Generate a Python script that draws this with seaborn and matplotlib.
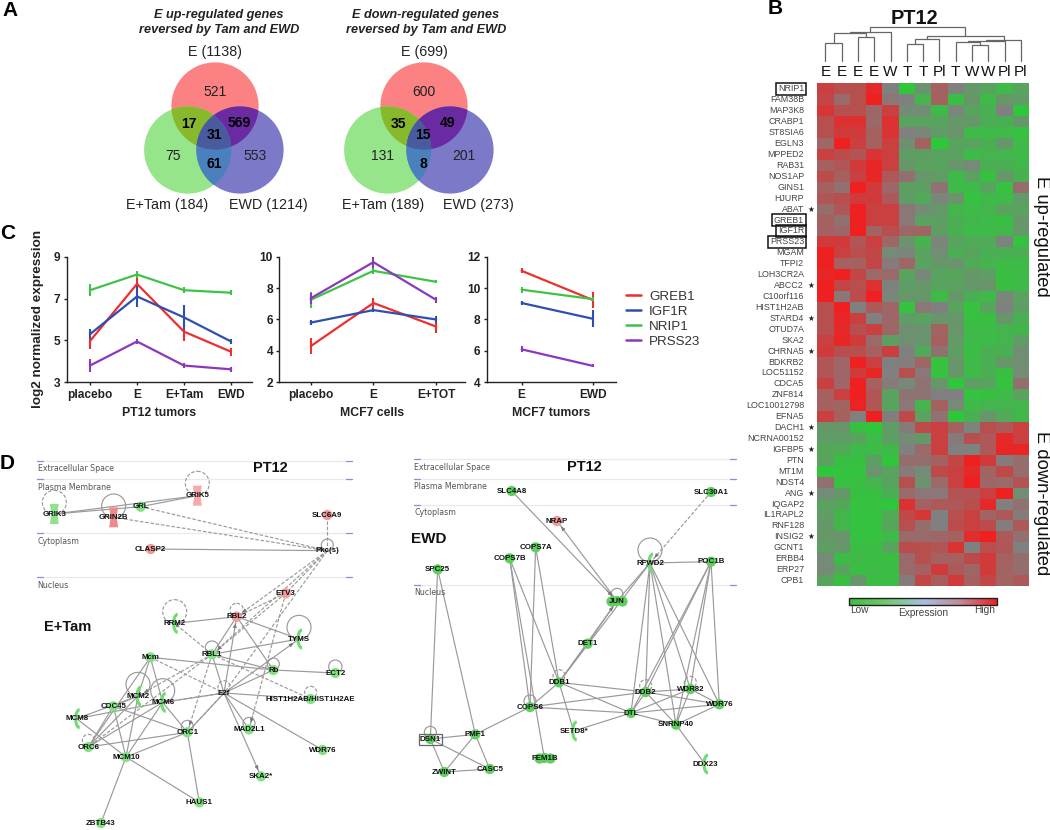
import numpy as np
import pandas as pd
import matplotlib
matplotlib.use('Agg')
import matplotlib.pyplot as plt
import seaborn as sns
from matplotlib.colors import LinearSegmentedColormap
from matplotlib.cm import ScalarMappable
from matplotlib.patches import Circle, Polygon, Rectangle, Arc

# ──────────────────────────────────────────────────────────────
#  DATA — A: venn counts
# ──────────────────────────────────────────────────────────────
venn_titles = ['E up-regulated genes\nreversed by Tam and EWD',
               'E down-regulated genes\nreversed by Tam and EWD']
venn_sets = [['E (1138)', 'E+Tam (184)', 'EWD (1214)'],
             ['E (699)', 'E+Tam (189)', 'EWD (273)']]
# only E, only Tam, only EWD, E&Tam, E&EWD, all three, Tam&EWD
venn_counts = [[521, 75, 553, 17, 569, 31, 61],
               [600, 131, 201, 35, 49, 15, 8]]

# ──────────────────────────────────────────────────────────────
#  DATA — C: line panels (value, error)
# ──────────────────────────────────────────────────────────────
genes_c = ['GREB1', 'IGF1R', 'NRIP1', 'PRSS23']
gene_colors = ['#ee2f2f', '#2f4fae', '#3fc247', '#8b38bd']

pt12_cats = ['placebo', 'E', 'E+Tam', 'EWD']
pt12_vals = [[4.97, 7.7, 5.42, 4.46], [5.3, 7.1, 6.1, 4.95],
             [7.4, 8.15, 7.4, 7.28], [3.8, 4.95, 3.8, 3.62]]
pt12_errs = [[.4, .45, .45, .2], [.25, .5, .6, .1],
             [.3, .15, .15, .12], [.3, .12, .12, .12]]

cells_cats = ['placebo', 'E', 'E+TOT']
cells_vals = [[4.3, 7.05, 5.55], [5.8, 6.6, 6.0],
              [7.25, 9.1, 8.4], [7.35, 9.65, 7.25]]
cells_errs = [[.5, .35, .4], [.15, .15, .25], [.5, .2, .1], [.35, .35, .2]]

mcf7_cats = ['E', 'EWD']
mcf7_vals = [[11.1, 9.25], [9.05, 8.05], [9.9, 9.3], [6.1, 5.05]]
mcf7_errs = [[.15, .5], [.12, .55], [.2, .15], [.2, .1]]

# ──────────────────────────────────────────────────────────────
#  DATA — B: heatmap (read by eye, -3 green ... +3 red)
# ──────────────────────────────────────────────────────────────
samples = ['E', 'E', 'E', 'E', 'W', 'T', 'T', 'Pl', 'T', 'W', 'W', 'Pl', 'Pl']
heat_genes = ['NRIP1', 'FAM38B', 'MAP3K8', 'CRABP1', 'ST8SIA6', 'EGLN3', 'MPPED2', 'RAB31',
              'NOS1AP', 'GINS1', 'HJURP', 'ABAT', 'GREB1', 'IGF1R', 'PRSS23', 'MGAM', 'TFPI2',
              'LOH3CR2A', 'ABCC2', 'C10orf116', 'HIST1H2AB', 'STARD4', 'OTUD7A', 'SKA2',
              'CHRNA5', 'BDKRB2', 'LOC51152', 'CDCA5', 'ZNF814', 'LOC10012798', 'EFNA5',
              'DACH1', 'NCRNA00152', 'IGFBP5', 'PTN', 'MT1M', 'NDST4', 'ANG', 'IQGAP2',
              'IL1RAPL2', 'RNF128', 'INSIG2', 'GCNT1', 'ERBB4', 'ERP27', 'CPB1']
boxed_genes = ['NRIP1', 'GREB1', 'IGF1R', 'PRSS23']
starred_genes = ['ABAT', 'ABCC2', 'STARD4', 'CHRNA5', 'DACH1', 'IGFBP5', 'ANG', 'INSIG2']
heat_vals = [
    [2, 1.5, 1.5, 2.7, 0, -3, -.8, 1, 0, -1, -1.5, -2.5, -1.5],
    [1.8, .7, 1.5, 3, .3, 0, -2.2, 1, -2.7, -1, -2.5, -1, -1.2],
    [2.3, 1.5, 1.5, .8, 2, -.5, -.5, -2.5, -.2, -1.5, -2, 0, -3],
    [1.5, 2.5, 2.5, .7, 2.5, -1.5, -1.5, -1.5, -1, -1, -2, -2, -1],
    [1.5, 2.2, 2.2, 1, 2.4, 0, -.3, -1.2, -.8, -2.5, -2.5, -2.5, -2.8],
    [.8, 3, 2, 1, 2, -.6, 1, -3, -1.5, -1.5, -2, -1, -2.5],
    [2, 1.6, 1.4, 2.4, 2, -1.2, -1.3, -1.5, -1.4, -2.5, -2.2, -2.2, -2.5],
    [1, 1.3, 2.2, 2.8, 2, -1, -1.4, -1.5, -1, -.4, -2, -2, -2.3],
    [1.6, 1, 2, 2.8, 1.2, .5, -1, -1.2, -2.5, -1.4, -2.7, -1, -2],
    [1, .5, 3, 2.2, .8, -1.3, -1.3, .4, -2.5, -2.5, -1.5, -2.8, .6],
    [1.3, 1.5, 2.2, 2.2, 1.2, -1.2, -1.8, -.3, -.8, -2.8, -2.5, -2.5, -1.2],
    [.6, 1.3, 3, 2, 2, .3, -.5, -1, -2.3, -2.5, -2.3, -1.5, -1.5],
    [1, .5, 3, 2, 2, .3, -1.4, -1.3, -2, -2.3, -2.5, -2.7, -1],
    [1, .8, 3, .9, 1.5, .8, .9, -1.3, -2, -2.5, -2.5, -2.3, -1.1],
    [2.2, 2.2, 1.3, 2, .8, -.8, -2.2, -.2, -1.5, -1.8, -1.8, -.1, -2.8],
    [3, 2, 1.5, 1.8, -.4, -.2, -1.5, -.5, -2, -1.5, -2, -2, -2],
    [3, 1, 1, 1.8, .2, .8, -1.5, -1, -.8, -1.8, -2.2, -2.5, -2.5],
    [2.8, 3, 1.8, .7, .7, -1.5, -.3, -1.5, -1.6, -1, -1.2, -2.7, -2.5],
    [3, 1.8, 1.5, 2.5, -.1, -1.2, -1, -1.5, -1.4, -1, -.9, -2.7, -2.5],
    [3, .3, 1.6, 3, -.3, -1, -1, -2.5, -1, -2, -2.5, -.3, -1.4],
    [1.5, 3, 0, 1.2, .8, -2.8, .3, 0, -1.5, -2.8, -1.5, -.1, -1.3],
    [1.5, 2.8, 2, 0, .8, -1.2, -1.5, -.9, -1, -2.7, -2.7, -1, -2],
    [1.5, 2.7, 1.5, 2, .8, -.7, -.8, .9, -.9, -2.5, -2.5, -2.2, -2.3],
    [2, 2.8, 2.2, .7, -1.3, -.6, -.9, 1, -1.1, -2.5, -2.5, -2.2, -1.2],
    [2.2, 1.5, 1.5, 1, 2, -.1, -1.8, .5, -1.3, -2.6, -2, -2, -.6],
    [1.3, .8, 3, 2, 0, .1, .8, -2.8, -1, -2.5, -2, -1, -.6],
    [1.3, .8, 2.2, 2.8, 0, 1.5, .3, -2.8, -1, -2.5, -2, -2.7, -.5],
    [2, .8, 3, 1, .2, -.4, .4, -1, -3, -1.3, -1.5, -2.8, .5],
    [1, 2, 3, 1.3, -1.5, .4, .4, 0, 0, -2.8, -2.7, -2.5, -1.4],
    [1, .9, 2.9, 1.3, -1.5, .3, -2.2, 1, -.4, -2.5, -2.2, -2.2, -2.3],
    [2, 1, 0, 3, .1, 1.7, -1.4, .4, -3, -2, -.9, -1.7, -2.4],
    [-1, -.9, -2.7, -3, -1.2, .2, 1.6, 2, 1, -.2, 1.5, 1.2, 2],
    [-1.2, -1.2, -1.5, -2.5, -1.3, -.5, -1, 2, .2, 1.5, 1.2, 2.7, 2],
    [-1.6, -1.8, -2.5, -2.5, -2.4, 0, .7, 2, 0, -.1, 1.2, 2.8, 2.8],
    [-1.5, -2.7, -2.7, -1.3, -3, .6, .6, 1, 1.8, 3, 2.2, .2, .6],
    [-3, -2.8, -2.8, -.8, -1.5, .2, -.4, 1.7, 2, 2.7, .9, 1.7, .6],
    [.5, -2.8, -2.7, -2.2, -1.5, 1.5, -.8, .7, 2, 3, .8, .7, 1.4],
    [-.5, -1, -2.7, -2.7, -2, .7, .3, .3, 1.4, 1.4, 2, 3, -.6],
    [-1.4, -1.6, -2.8, -2.8, -3, 2.5, 1, 1.2, 1.2, 1.5, 2.7, 0, .5],
    [-1.2, -2.3, -2.8, -2.8, -1.8, 1.7, 2.3, 0, 1.5, 2, .9, 1.2, .2],
    [-1, -2.3, -2.8, -2.8, -1.6, 1.5, .6, 0, 1.6, 2, 1.6, .1, 1.2],
    [-1, -.8, -2.8, -2.8, -2.5, .7, .7, .8, 1, 2.6, 3, 1.2, .5],
    [-1.3, -1, -2.6, -2.6, -1.5, 1.6, 1.5, 1.3, 2.4, 0, 1.5, 1.3, 0],
    [-.4, -2.6, -2.4, -2.7, -2.7, .7, 1.5, 1, 1, 1.7, 2.2, 1, .6],
    [-.4, -1.5, -2.7, -2.5, -2.6, .7, 1, 2.2, 1.2, .8, 2.2, .9, .6],
    [-1.5, -2.7, -.9, -2.6, -2.6, .2, 1.8, 1.1, 2.2, 1, 1.8, .9, 1.2],
]
# dendrogram merges: left node, right node, top of the link (px); leaves are 0-12
dendro_merges = [(0, 1, 42.7), (2, 3, 37.3), (13, 14, 33.3), (15, 4, 31.7),
                 (5, 6, 44), (17, 7, 39.3), (9, 10, 45), (8, 19, 41.7),
                 (20, 11, 40.7), (21, 12, 40), (18, 22, 36), (16, 23, 27.3)]

# ──────────────────────────────────────────────────────────────
#  DATA — D: networks
#  positions read in 3x crop units, converted in to_px below
# ──────────────────────────────────────────────────────────────
lanes_tam = [('Extracellular Space', 107), ('Plasma Membrane', 163), ('Cytoplasm', 325), ('Nucleus', 457)]
lanes_ewd = [('Extracellular Space', 103), ('Plasma Membrane', 161), ('Cytoplasm', 239), ('Nucleus', 480)]

tam_nodes = {'GRIK3': (163, 267), 'GRIN2B': (341, 277), 'GRL': (422, 245), 'GRIK5': (592, 212),
             'SLC6A9': (982, 270), 'CLASP2': (452, 372), 'Pkc(s)': (982, 377), 'ETV3': (857, 505),
             'RBL2': (710, 575), 'RRM2': (524, 595), 'TYMS': (897, 642), 'RBL1': (636, 688),
             'Mcm': (451, 697), 'Rb': (820, 735), 'ECT2': (1006, 744), 'E2f': (672, 804),
             'MCM2': (414, 813), 'MCM6': (488, 832), 'CDC45': (340, 844),
             'HIST1H2AB/HIST1H2AE': (932, 822), 'MCM8': (230, 881), 'ORC1': (562, 922),
             'MAD2L1': (747, 913), 'ORC6': (265, 966), 'MCM10': (378, 996), 'WDR76': (968, 975),
             'SKA2*': (783, 1054), 'HAUS1': (598, 1132), 'ZBTB43': (303, 1194)}
tam_red = ['SLC6A9', 'CLASP2', 'ETV3', 'RBL2']
tam_plain = ['Pkc(s)', 'E2f']
tam_crescent = ['RRM2', 'TYMS', 'MCM2', 'MCM6', 'MCM8']
tam_hourglass = {'GRIK3': '#8fe28f', 'GRIN2B': '#f08a8a', 'GRIK5': '#f8aaaa'}
tam_solid = ('GRIK3:GRL GRIK3:GRIK5 GRL:GRIK5 CLASP2:Pkc(s) RRM2:RBL2 RBL2:TYMS RBL1:TYMS RBL1>RBL2 '
             'RBL1:Rb Mcm:Rb RBL2>Rb Rb:ECT2 E2f>RBL1 E2f>RBL2 E2f:Rb E2f>TYMS '
             'E2f:HIST1H2AB/HIST1H2AE E2f:MCM6 E2f:ORC1 E2f>MAD2L1 E2f>SKA2* E2f:WDR76 Mcm>MCM2 '
             'Mcm>MCM6 Mcm:ORC6 MCM2:CDC45 MCM8:MCM6 MCM8:MCM2 MCM8:MCM10 MCM6:ORC6 MCM6:MCM10 '
             'CDC45:ORC1 CDC45:MCM10 CDC45:ORC6 MCM2:ORC6 MCM2:MCM10 ORC1:ORC6 ORC1:MCM10 '
             'ORC1:HAUS1 MCM10:HAUS1 MCM10:ZBTB43 MCM6:ORC1').split()
tam_dashed = ('GRL:Pkc(s) GRIN2B:Pkc(s) Pkc(s)>SLC6A9 Pkc(s)>ETV3 Pkc(s)>RBL2 Pkc(s):RBL1 Pkc(s):E2f '
              'ETV3>RBL1 ETV3>RBL2 RBL1>RRM2 Mcm:E2f RBL1>MCM2 RBL1:ORC6 RBL1>ORC1 E2f>ORC1 E2f>MCM6 '
              'RBL1:HIST1H2AB/HIST1H2AE ETV3>MAD2L1').split()
# node, centre offset up (crop units), radius, dashed
tam_loops = [('GRIK3', 35, 36, True), ('GRIN2B', 34, 36, False), ('GRIK5', 37, 36, True),
             ('Pkc(s)', 17, 18, False), ('RBL2', 20, 20, True), ('RRM2', 35, 36, True),
             ('TYMS', 35, 36, False), ('RBL1', 20, 20, False), ('Rb', 18, 18, False),
             ('ECT2', 19, 20, False), ('E2f', 19, 18, True), ('MCM2', 35, 36, False),
             ('MCM6', 35, 36, False), ('HIST1H2AB/HIST1H2AE', 20, 18, True),
             ('ORC1', 18, 18, False), ('MAD2L1', 18, 18, False), ('ORC6', 20, 18, True)]

ewd_nodes = {'SLC4A8': (395, 198), 'SLC30A1': (993, 201), 'NRAP': (531, 288), 'COPS7A': (467, 367),
             'COPS7B': (389, 400), 'RFWD2': (810, 414), 'POC1B': (993, 410), 'SPC25': (173, 433),
             'JUN': (711, 528), 'DET1': (623, 656), 'DDB1': (537, 772), 'DDB2': (797, 801),
             'WDR82': (931, 792), 'WDR76': (1018, 838), 'DTL': (753, 864), 'SNRNP40': (888, 899),
             'COPS6': (450, 846), 'SETD8*': (581, 918), 'PMF1': (286, 928), 'DSN1': (151, 942),
             'FEM1B': (493, 999), 'ZWINT': (193, 1041), 'CASC5': (329, 1032), 'DDX23': (975, 1017)}
ewd_red = ['NRAP']
ewd_plain = []
ewd_crescent = ['RFWD2', 'SETD8*', 'DDX23']
ewd_solid = ('SLC4A8>JUN JUN>NRAP COPS7A:COPS6 COPS7A:DDB1 COPS7B:COPS6 COPS7B:DDB1 COPS7B:FEM1B '
             'RFWD2:POC1B JUN>RFWD2 RFWD2:DDB1 RFWD2:DDB2 RFWD2:DTL RFWD2:WDR82 RFWD2:SNRNP40 '
             'RFWD2:WDR76 POC1B:DDB2 POC1B:DTL POC1B:WDR82 POC1B:SNRNP40 POC1B:WDR76 DET1>JUN '
             'DDB1>JUN DDB1:DET1 SPC25:DSN1 SPC25:PMF1 DSN1:PMF1 DSN1:ZWINT DSN1:CASC5 PMF1:ZWINT '
             'PMF1:CASC5 ZWINT:CASC5 PMF1:COPS6 COPS6:DDB1 COPS6:DDB2 COPS6:DTL DDB1:DDB2 DDB1:DTL '
             'DDB1:SETD8* DDB2:DTL DDB2:WDR82 DDB2:WDR76 DDB2:SNRNP40 DTL:WDR82 DTL:WDR76 '
             'DTL:SNRNP40 DTL:SETD8* WDR82:SNRNP40 WDR82:WDR76 WDR76:SNRNP40 SNRNP40:DDX23').split()
ewd_dashed = ['SLC30A1>RFWD2']
ewd_loops = [('RFWD2', 39, 36, False), ('JUN', 20, 18, False), ('DDB1', 20, 18, True),
             ('COPS6', 18, 18, False), ('DDB2', 19, 18, True), ('WDR82', 20, 18, True),
             ('DSN1', 20, 18, False)]

# ──────────────────────────────────────────────────────────────
#  SETUP
# ──────────────────────────────────────────────────────────────
sns.set_theme(style='white')
plt.rcParams['font.family'] = ['Liberation Sans', 'DejaVu Sans']
W, H = 1050, 830

fig = plt.figure(figsize=(W / 100, H / 100), dpi=100, facecolor='white')


def px_axes(left, top, right, bottom, **kw):
    return fig.add_axes([left / W, 1 - bottom / H, (right - left) / W, (bottom - top) / H], **kw)


# page axes in pixels, y down: venns, dendrogram, networks, free text
page = px_axes(0, 0, W, H)
page.set_xlim(0, W)
page.set_ylim(H, 0)
page.axis('off')

for letter, x, y in [('A', 2, 10), ('B', 768, 9), ('C', 0, 233), ('D', 0, 463)]:
    page.text(x, y, letter, fontsize=15, fontweight='bold', va='center', color='black')

# ──────────────────────────────────────────────────────────────
#  A — VENN
# ──────────────────────────────────────────────────────────────
set_colors = ['#fb8183', '#97e58b', '#7b79c8']
pair_colors = {(0, 1): '#88b92c', (0, 2): '#6a2aa2', (1, 2): '#4a80be'}
triple_color = '#4a5a9e'
venn_r = 43.6


def overlap_polygon(centers):
    # boundary of a convex intersection, sampled from the circle outlines
    t = np.linspace(0, 2 * np.pi, 720)
    pts = []
    for cx, cy in centers:
        ring = np.column_stack([cx + venn_r * np.cos(t), cy + venn_r * np.sin(t)])
        keep = np.ones(len(ring), bool)
        for ox, oy in centers:
            if (ox, oy) != (cx, cy):
                keep &= np.hypot(ring[:, 0] - ox, ring[:, 1] - oy) <= venn_r
        pts.append(ring[keep])
    pts = np.vstack(pts)
    mid = pts.mean(axis=0)
    return pts[np.argsort(np.arctan2(pts[:, 1] - mid[1], pts[:, 0] - mid[0]))]


venn_centers = [[(215, 106), (187.7, 150), (240, 150)],
                [(424, 106), (387.7, 150), (450, 150)]]
count_offsets = [(0, -14), (-41.5, 50), (40, 50), (-26, 17.5), (24, 17), (-1, 29), (-1, 58)]
title_x = [219, 425.7]
set_label_pos = [[(215, 52), (167, 205), (268, 205)], [(424, 52), (383, 205), (478, 205)]]

for v, centers in enumerate(venn_centers):
    for c, col in zip(centers, set_colors):
        page.add_patch(Circle(c, venn_r, fc=col, ec='none', zorder=1))
    for (a, b), col in pair_colors.items():
        page.add_patch(Polygon(overlap_polygon([centers[a], centers[b]]), fc=col, ec='none', zorder=2))
    page.add_patch(Polygon(overlap_polygon(centers), fc=triple_color, ec='none', zorder=3))
    page.text(title_x[v], 22.5, venn_titles[v], ha='center', va='center', fontsize=9.2,
              fontweight='bold', style='italic', color='#222222', linespacing=1.28)
    for label, pos in zip(venn_sets[v], set_label_pos[v]):
        page.text(*pos, label, ha='center', va='center', fontsize=10.3, color='#222222')
    for i, (n, off) in enumerate(zip(venn_counts[v], count_offsets)):
        bold = i >= 3
        page.text(centers[0][0] + off[0], 106 + off[1], str(n), ha='center', va='center', fontsize=10,
                  color='black' if bold else '#222222', fontweight='bold' if bold else 'normal', zorder=5)

# ──────────────────────────────────────────────────────────────
#  C — LINE PANELS
# ──────────────────────────────────────────────────────────────
line_panels = [
    (66.7, 251.7, pt12_cats, pt12_vals, pt12_errs, (3, 9), [3, 5, 7, 9], (-0.496, 3.44), 'PT12 tumors'),
    (279.3, 465, cells_cats, cells_vals, cells_errs, (2, 10), [2, 4, 6, 8, 10], (-0.5, 2.46), 'MCF7 cells'),
    (486.7, 616, mcf7_cats, mcf7_vals, mcf7_errs, (4, 12), [4, 6, 8, 10, 12], (-0.493, 1.33), 'MCF7 tumors'),
]
for n, (left, right, cats, vals, errs, ylim, yticks, xlim, xlabel) in enumerate(line_panels):
    ax = px_axes(left, 256.7, right, 382.3)
    ax.patch.set_alpha(0)
    df = pd.DataFrame(vals, index=genes_c, columns=cats).rename_axis('gene').reset_index()
    df = df.melt(id_vars='gene', var_name='condition', value_name='expression')
    sns.lineplot(data=df, x='condition', y='expression', hue='gene', hue_order=genes_c,
                 palette=gene_colors, sort=False, errorbar=None, linewidth=1.6, ax=ax,
                 legend=n == 2)
    for v, e, col in zip(vals, errs, gene_colors):
        ax.errorbar(cats, v, yerr=e, fmt='none', ecolor=col, elinewidth=1.5, capsize=0)
    ax.set_xlim(*xlim)
    ax.set_ylim(*ylim)
    ax.set_yticks(yticks)
    ax.set_ylabel('')
    ax.set_xlabel(xlabel, fontsize=8.8, fontweight='bold', labelpad=4.5, color='#222222')
    sns.despine(ax=ax)
    for s in ['left', 'bottom']:
        ax.spines[s].set_linewidth(1.0)
        ax.spines[s].set_color('#222222')
    ax.tick_params(axis='both', length=2.5, width=1.0, color='#222222', left=True, bottom=True, pad=2)
    for lab in ax.get_xticklabels() + ax.get_yticklabels():
        lab.set_fontsize(8.6)
        lab.set_fontweight('bold')
        lab.set_color('#222222')
    if n == 2:
        leg = ax.legend(loc='center left', bbox_to_anchor=(1.075, 0.504), frameon=False, fontsize=9.6,
                        handlelength=1.15, handletextpad=0.6, labelspacing=0.2, borderpad=0, borderaxespad=0,
                        labelcolor='#333333')
        for h in leg.get_lines():
            h.set_linewidth(1.8)

page.text(38, 319, 'log2 normalized expression', rotation=90, ha='center', va='center',
          fontsize=9.7, fontweight='bold', color='#222222')

# ──────────────────────────────────────────────────────────────
#  B — HEATMAP
# ──────────────────────────────────────────────────────────────
heat_left, heat_right, heat_top, heat_bottom = 817.3, 1029, 83.5, 586
heat_cmap = LinearSegmentedColormap.from_list('gr', ['#30c63c', '#808080', '#ef2020'])
heat_ax = px_axes(heat_left, heat_top, heat_right, heat_bottom)
heat_df = pd.DataFrame(heat_vals, index=heat_genes)
sns.heatmap(heat_df, cmap=heat_cmap, vmin=-3, vmax=3, cbar=False, ax=heat_ax,
            xticklabels=samples, yticklabels=heat_genes)
heat_ax.xaxis.tick_top()
heat_ax.tick_params(axis='both', length=0)
heat_ax.tick_params(axis='x', pad=3, labelsize=11, labelrotation=0, labelcolor='#111111')
heat_ax.tick_params(axis='y', pad=9.5, labelsize=6.4, labelrotation=0, labelcolor='#444444')
for lab in heat_ax.get_yticklabels():
    if lab.get_text() in boxed_genes:
        lab.set_bbox(dict(boxstyle='square,pad=0.2', fc='none', ec='#111111', lw=1.1))
for i, g in enumerate(heat_genes):
    if g in starred_genes:
        heat_ax.text(-0.41, i + 0.5, '★', fontsize=5.5, ha='center', va='center',
                     family='DejaVu Sans', clip_on=False, color='#222222')

page.text(914, 19, 'PT12', fontsize=14.3, fontweight='bold', ha='center', va='center', color='#111111')
page.text(1041.5, 236.7, 'E up-regulated', fontsize=13.2, rotation=-90, ha='center', va='center', color='#111111')
page.text(1041.5, 503.5, 'E down-regulated', fontsize=13.2, rotation=-90, ha='center', va='center', color='#111111')

# dendrogram, drawn on the column centres of the heatmap
col_w = (heat_right - heat_left) / len(samples)
node_x = {i: heat_left + (i + .5) * col_w for i in range(len(samples))}
node_y = {i: 61 for i in range(len(samples))}
for k, (a, b, top) in enumerate(dendro_merges):
    page.plot([node_x[a], node_x[a], node_x[b], node_x[b]],
              [node_y[a], top, top, node_y[b]], color='#666666', lw=0.9, solid_joinstyle='miter')
    node_x[13 + k] = (node_x[a] + node_x[b]) / 2
    node_y[13 + k] = top

# colour key
key_cmap = LinearSegmentedColormap.from_list('key', ['#3cc03c', '#6fca6c', '#a9bde0', '#c08a98', '#ea2020'])
key_ax = px_axes(849.3, 598, 997.3, 605)
cb = fig.colorbar(ScalarMappable(cmap=key_cmap), cax=key_ax, orientation='horizontal')
cb.set_ticks([])
cb.outline.set_linewidth(1)
cb.outline.set_edgecolor('#222222')
for label, x, y in [('Low', 859, 610), ('Expression', 923, 613), ('High', 985, 610)]:
    page.text(x, y, label, fontsize=7.3, ha='center', va='center', color='#444444')

# ──────────────────────────────────────────────────────────────
#  D — NETWORKS
# ──────────────────────────────────────────────────────────────
EDGE = '#9a9a9a'


def to_px(xy, ox):
    return ox + xy[0] / 3, 425 + xy[1] / 3


def draw_network(nodes, red, plain, crescent, solid, dashed, loops, lanes, ox, lane_x, green):
    for name, y in lanes:
        y_px = 425 + y / 3
        page.plot(lane_x, [y_px, y_px], color='#e8e8f6', lw=0.9, zorder=1)
        page.plot([lane_x[0], lane_x[0] + 6], [y_px, y_px], color='#8d8dd8', lw=0.9, zorder=1)
        page.plot([lane_x[1] - 6, lane_x[1]], [y_px, y_px], color='#8d8dd8', lw=0.9, zorder=1)
        page.text(lane_x[0] + 0.5, y_px + 7.7, name, fontsize=5.7, family='DejaVu Sans', va='center', color='#555555')

    pos = {k: to_px(v, ox) for k, v in nodes.items()}
    for edges, ls in [(solid, '-'), (dashed, (0, (3, 1.5)))]:
        for e in edges:
            directed = '>' in e
            a, b = e.split('>') if directed else e.split(':')
            page.plot(*zip(pos[a], pos[b]), color=EDGE, lw=0.85, ls=ls, zorder=2)
            if directed:
                # small head, stopping short of the target node
                page.annotate('', xy=pos[b], xytext=(np.array(pos[a]) + np.array(pos[b]) * 9) / 10,
                              arrowprops=dict(arrowstyle='-|>,head_width=0.09,head_length=0.2', color='#777777',
                                              lw=0.5, shrinkA=0, shrinkB=5), zorder=3)
    for name, up, r, is_dashed in loops:
        x, y = pos[name]
        page.add_patch(Circle((x, y - up / 3), r / 3, fc='none', ec='#9a9a9a', lw=0.85,
                              ls=(0, (3, 1.5)) if is_dashed else '-', zorder=2))

    dots = pd.DataFrame([(k, *pos[k], 'red' if k in red else 'green') for k in nodes
                         if k not in plain and k not in crescent and k not in tam_hourglass],
                        columns=['name', 'x', 'y', 'state'])
    sns.scatterplot(data=dots, x='x', y='y', hue='state', palette={'red': '#f29a9a', 'green': green},
                    s=55, linewidth=0, legend=False, ax=page, zorder=4)
    for k in crescent:
        x, y = pos[k]
        page.add_patch(Arc((x + 3, y), 8, 18, theta1=90, theta2=270, color='#6fdc6f', lw=2.2, zorder=4))
    for k, col in tam_hourglass.items():
        if k in nodes:
            x, y = pos[k]
            page.add_patch(Polygon([(x - 4.5, y - 10), (x + 4.5, y - 10), (x + 3, y), (x + 4.5, y + 10),
                                    (x - 4.5, y + 10), (x - 3, y)], fc=col, ec='none', zorder=4))
    for k, (x, y) in pos.items():
        page.text(x, y, k, fontsize=5.7, fontweight='bold', ha='center', va='center', color='#111111', zorder=6)
    return pos


draw_network(tam_nodes, tam_red, tam_plain, tam_crescent, tam_solid, tam_dashed, tam_loops,
             lanes_tam, 0, [37, 352], '#86e086')
ewd_pos = draw_network(ewd_nodes, ewd_red, ewd_plain, ewd_crescent, ewd_solid, ewd_dashed, ewd_loops,
                       lanes_ewd, 380, [414, 736], '#5fd060')

# second lobe of the two double-dot nodes
for name, dx_list in [('JUN', (-6, 5)), ('FEM1B', (-5.5, 6))]:
    x, y = ewd_pos[name]
    page.scatter([x + d for d in dx_list], [y, y], s=55, color='#5fd060', linewidth=0, zorder=4)
x, y = ewd_pos['DSN1']
page.add_patch(Rectangle((x - 11.5, y - 5.5), 23, 11, fc='none', ec='#666666', lw=0.9, zorder=5))

page.text(270.7, 467.7, 'PT12', fontsize=10.5, fontweight='bold', ha='center', va='center', color='#111111')
page.text(68, 627, 'E+Tam', fontsize=10.5, fontweight='bold', ha='center', va='center', color='#111111')
page.text(584.5, 466.5, 'PT12', fontsize=10.5, fontweight='bold', ha='center', va='center', color='#111111')
page.text(429, 539, 'EWD', fontsize=11, fontweight='bold', ha='center', va='center', color='#111111')

page.set_xlim(0, W)
page.set_ylim(H, 0)
page.set_xlabel('')
page.set_ylabel('')
fig.savefig('out.png', dpi=100, facecolor='white')
